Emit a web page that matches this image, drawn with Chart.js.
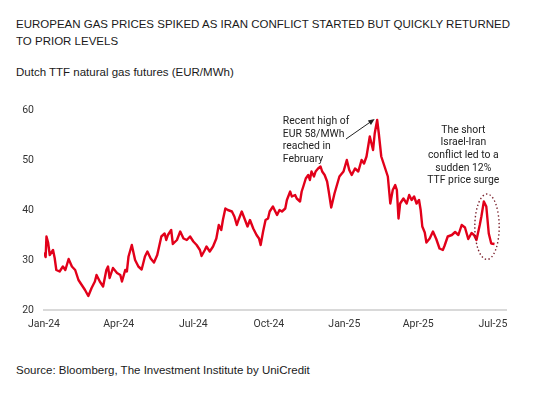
<!DOCTYPE html>
<html>
<head>
<meta charset="utf-8">
<script src="https://cdn.jsdelivr.net/npm/chart.js@4.4.1/dist/chart.umd.min.js"></script>
<style>
  body { margin: 0; background: #fff; width: 560px; height: 396px; position: relative; overflow: hidden;
         font-family: "Liberation Sans", Arial, sans-serif; color: #1a1a1a; }
  #title { position: absolute; left: 16px; top: 16px; font-size: 11.5px; line-height: 17px; width: 530px; }
  #subtitle { position: absolute; left: 16px; top: 65px; font-size: 11.5px; line-height: 14px; }
  #source { position: absolute; left: 16px; top: 363px; font-size: 11.5px; line-height: 14px; }
  #wrap { position: absolute; left: 0; top: 90px; width: 560px; height: 250px; }
</style>
</head>
<body>
<div id="title">EUROPEAN GAS PRICES SPIKED AS IRAN CONFLICT STARTED BUT QUICKLY RETURNED<br>TO PRIOR LEVELS</div>
<div id="subtitle">Dutch TTF natural gas futures (EUR/MWh)</div>
<div id="wrap"><canvas id="ttfChart"></canvas></div>
<div id="source">Source: Bloomberg, The Investment Institute by UniCredit</div>
<script>
// days counted from 1 Jan 2024
const days = [0,2,3,5,7,11,13,15,19,23,
  26,30,34,38,42,46,50,54,58,62,
  64,68,72,76,78,80,84,89,93,95,
  99,101,103,107,111,115,119,123,126,130,
  134,138,143,147,149,151,155,157,162,166,
  170,174,178,182,186,190,192,196,198,202,
  206,210,213,216,218,221,224,229,232,235,
  237,241,245,248,251,255,259,262,264,267,
  270,273,275,279,281,284,287,290,294,296,
  300,302,306,308,312,314,316,319,322,324,
  326,329,331,334,337,339,342,345,347,350,
  354,360,365,369,372,375,379,383,387,390,
  393,397,401,403,406,408,411,415,419,422,
  425,428,430,432,434,438,442,445,448,451,
  454,457,459,461,464,466,470,474,478,482,
  486,488,492,497,501,505,509,513,517,521,
  524,527,531,533,536,539,542,545,549];

// EUR/MWh
const prices = [31.5,30.6,34.7,33.5,31,32,30.4,28,27.7,28.7,
  28,30.2,28.7,28,26,25,24,22.8,24.4,25.7,
  27,25.7,24.7,28,28.7,26.4,28.4,27.4,27,25.7,
  28,27.7,30.7,33,30,28.7,28.1,30.7,31.7,30.3,
  29.5,31,34.7,35.3,34,35,36,33.2,34,35.7,
  34.3,34,34.7,33.7,33,32,30.8,32,32.7,31.7,
  32.7,34.3,37,36,38,40.3,40,39.7,38.7,37,
  38,39.7,38,36.7,38,36.3,35,34.3,33,35.7,
  38,38.3,39.7,40.7,40,39,40,39.7,40.3,42,
  43.7,42.7,43,42.3,41.7,43.7,44.7,46.3,47,46,
  47.7,46.7,47.7,48.3,48.7,47.7,47,45.7,43.7,40.5,
  43.3,46.7,47.7,50,48,47,48.3,47.7,50,49.3,
  50.7,54.7,52,55.3,58,55.3,50.7,48.7,46.7,41.3,
  44,45,44,38.3,41.3,42.3,41.3,43,42,42.7,
  41.3,42,40,36.7,35.5,33.5,34.3,35.7,34.2,32.3,
  32,32.8,34.7,35,35.6,35,37,36.5,34.2,35.4,
  35,34,37,38.7,41.7,40.7,35.3,33.3,33.2];

const tickDays = [0, 91, 182, 274, 366, 456, 547];
const tickLabels = ['Jan-24', 'Apr-24', 'Jul-24', 'Oct-24', 'Jan-25', 'Apr-25', 'Jul-25'];
const yTicks = [20, 30, 40, 50, 60];

const noteHigh = ['Recent high of', 'EUR 58/MWh', 'reached in', 'February'];
const noteIran = ['The short', 'Israel-Iran', 'conflict led to a', 'sudden 12%', 'TTF price surge'];

const tickFont = { family: 'Roboto, "DejaVu Sans", sans-serif', size: 10.5 };

// notes, arrow and dotted ellipse drawn in data units
const notesPlugin = {
    id: 'notes',
    afterDatasetsDraw(chart) {
        const { ctx, scales: { x, y } } = chart;
        ctx.save();
        ctx.fillStyle = '#222';
        ctx.font = '10.4px Roboto, "DejaVu Sans", sans-serif';
        ctx.textBaseline = 'middle';

        ctx.textAlign = 'left';
        noteHigh.forEach((line, i) => ctx.fillText(line, x.getPixelForValue(291), y.getPixelForValue(57.7) + i * 12.7));

        ctx.textAlign = 'center';
        noteIran.forEach((line, i) => ctx.fillText(line, x.getPixelForValue(511), y.getPixelForValue(56) + i * 12.7));

        // arrow to the February peak
        const x0 = x.getPixelForValue(368), y0 = y.getPixelForValue(54.2);
        const x1 = x.getPixelForValue(403), y1 = y.getPixelForValue(58.2);
        const ang = Math.atan2(y1 - y0, x1 - x0);
        ctx.strokeStyle = '#222';
        ctx.lineWidth = 1;
        ctx.beginPath();
        ctx.moveTo(x0, y0);
        ctx.lineTo(x1 - 5 * Math.cos(ang), y1 - 5 * Math.sin(ang));
        ctx.stroke();
        ctx.beginPath();
        ctx.moveTo(x1, y1);
        ctx.lineTo(x1 - 7 * Math.cos(ang - 0.4), y1 - 7 * Math.sin(ang - 0.4));
        ctx.lineTo(x1 - 7 * Math.cos(ang + 0.4), y1 - 7 * Math.sin(ang + 0.4));
        ctx.closePath();
        ctx.fill();

        // dotted ellipse round the June spike
        const ex0 = x.getPixelForValue(525), ex1 = x.getPixelForValue(554.7);
        const ey0 = y.getPixelForValue(43.2), ey1 = y.getPixelForValue(30.1);
        ctx.strokeStyle = '#7a1f2b';
        ctx.lineWidth = 1.4;
        ctx.setLineDash([1.4, 2.4]);
        ctx.beginPath();
        ctx.ellipse((ex0 + ex1) / 2, (ey0 + ey1) / 2, (ex1 - ex0) / 2, (ey1 - ey0) / 2, 0, 0, Math.PI * 2);
        ctx.stroke();
        ctx.restore();
    }
};

new Chart(document.getElementById('ttfChart').getContext('2d'), {
    type: 'line',
    data: {
        datasets: [{
            data: days.map((d, i) => ({ x: d, y: prices[i] })),
            borderColor: '#e2001a',
            borderWidth: 2.4,
            pointRadius: 0,
            tension: 0,
            borderJoinStyle: 'round'
        }]
    },
    options: {
        responsive: true,
        maintainAspectRatio: false,
        animation: false,
        layout: { padding: { top: 20, right: 54, bottom: 0, left: 0 } },
        plugins: { legend: { display: false }, tooltip: { enabled: false } },
        scales: {
            x: {
                type: 'linear',
                min: 0,
                max: 563,
                afterFit: scale => { scale.height = 30; },
                afterBuildTicks: scale => { scale.ticks = tickDays.map(v => ({ value: v })); },
                grid: { display: false, drawTicks: false },
                border: { display: true, color: '#d9d9d9', width: 2 },
                ticks: {
                    autoSkip: false,
                    maxRotation: 0,
                    padding: 8,
                    color: '#333',
                    font: tickFont,
                    callback: value => tickLabels[tickDays.indexOf(value)]
                }
            },
            y: {
                min: 20,
                max: 60,
                afterFit: scale => { scale.width = 44; },
                afterBuildTicks: scale => { scale.ticks = yTicks.map(v => ({ value: v })); },
                grid: { display: false, drawTicks: false },
                border: { display: false },
                ticks: { padding: 10, color: '#333', font: tickFont }
            }
        }
    },
    plugins: [notesPlugin]
});
</script>
</body>
</html>
